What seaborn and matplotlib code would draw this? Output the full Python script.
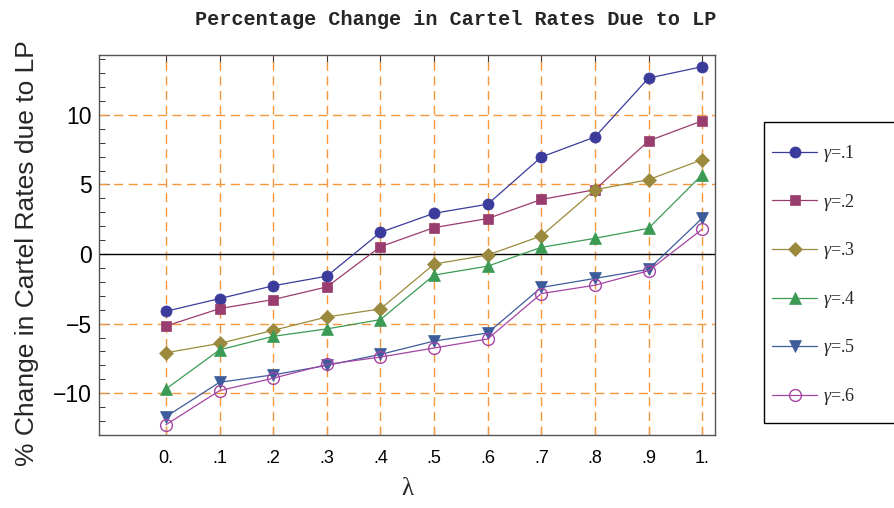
import numpy as np
import pandas as pd
import seaborn as sns
import matplotlib
matplotlib.use("Agg")
import matplotlib.pyplot as plt
from matplotlib.patches import Rectangle
from matplotlib.ticker import MultipleLocator, FixedLocator

# ---- data ----
lam = [0.0, 0.1, 0.2, 0.3, 0.4, 0.5, 0.6, 0.7, 0.8, 0.9, 1.0]
lam_labels = ["0.", ".1", ".2", ".3", ".4", ".5", ".6", ".7", ".8", ".9", "1."]
g1 = [-4.11, -3.20, -2.28, -1.59, 1.56, 2.93, 3.58, 6.97, 8.41, 12.64, 13.46]
g2 = [-5.17, -3.92, -3.27, -2.36, 0.53, 1.90, 2.55, 3.92, 4.62, 8.13, 9.57]
g3 = [-7.09, -6.42, -5.48, -4.52, -3.94, -0.72, -0.07, 1.30, 4.62, 5.34, 6.78]
g4 = [-9.69, -6.88, -5.91, -5.38, -4.71, -1.51, -0.87, 0.48, 1.13, 1.85, 5.70]
g5 = [-11.68, -9.21, -8.68, -8.00, -7.21, -6.25, -5.67, -2.40, -1.75, -1.10, 2.57]
g6 = [-12.26, -9.81, -8.92, -7.93, -7.40, -6.75, -6.10, -2.84, -2.24, -1.20, 1.78]
series = [g1, g2, g3, g4, g5, g6]
series_names = [r"$\gamma$=.1", r"$\gamma$=.2", r"$\gamma$=.3",
                r"$\gamma$=.4", r"$\gamma$=.5", r"$\gamma$=.6"]
y_ticks = [-10, -5, 0, 5, 10]

colors = ["#3b3b9b", "#993d6e", "#9b8a3d", "#3b9b55", "#3d5c9b", "#a445a4"]
markers = ["o", "s", "D", "^", "v", "o"]
msizes = [8.0, 7.0, 7.5, 8.0, 8.0, 8.5]
filled = [True, True, True, True, True, False]

sns.set_theme(style="white")
plt.rcParams["mathtext.fontset"] = "custom"
plt.rcParams["mathtext.it"] = "Liberation Serif:italic"
plt.rcParams["mathtext.rm"] = "Liberation Serif"
plt.rcParams["font.family"] = ["Liberation Sans", "DejaVu Sans"]

W, H = 895, 508
fig = plt.figure(figsize=(W / 100, H / 100), dpi=100)
ax_l, ax_r, ax_t, ax_b = 99, 715, 55, 435
ax = fig.add_axes([ax_l / W, 1 - ax_b / H, (ax_r - ax_l) / W, (ax_b - ax_t) / H])

# grid
grid_kw = dict(color="#f7963a", lw=1.0, dashes=(6.5, 4), zorder=1)
for xv in lam:
    ax.axvline(xv, **grid_kw)
for yv in y_ticks:
    if yv != 0:
        ax.axhline(yv, **grid_kw)
ax.axhline(0, color="black", lw=1.0, zorder=1.5)

for vals, name, c, m, ms, f in zip(series, series_names, colors, markers, msizes, filled):
    sns.lineplot(x=lam, y=vals, ax=ax, color=c, marker=m, markersize=ms,
                 linewidth=0.9, label=name, markeredgecolor=c,
                 markerfacecolor=(c if f else "none"),
                 markeredgewidth=(0.5 if f else 1.0), zorder=3)

ax.set_xlim(-0.125, 1.024)
ax.set_ylim(-13.0, 14.3)
ax.xaxis.set_major_locator(FixedLocator(lam))
ax.set_xticklabels(lam_labels)
ax.yaxis.set_major_locator(FixedLocator(y_ticks))
ax.yaxis.set_minor_locator(MultipleLocator(1))

ax.tick_params(axis="x", which="major", direction="in", length=6, width=0.8,
               color="#333333", top=True, bottom=True, labelsize=13, pad=10.5)
ax.tick_params(axis="y", which="major", direction="in", length=7, width=0.8,
               color="#333333", left=True, right=False, labelsize=16.5, pad=5)
ax.tick_params(axis="y", which="minor", direction="in", length=4, width=0.7,
               color="#333333", left=True, right=False)
for lab in ax.get_xticklabels() + ax.get_yticklabels():
    lab.set_color("black")

for s in ax.spines.values():
    s.set_color("#555555")
    s.set_linewidth(1.0)
    s.set_visible(True)

ax.set_xlabel("λ", family="Liberation Serif", fontsize=18)
ax.xaxis.set_label_coords(0.5, -0.112)
ax.set_ylabel("% Change in Cartel Rates due to LP", fontsize=19)
ax.yaxis.set_label_coords(-0.097, 0.479)

fig.text(0.509, 0.961, "Percentage Change in Cartel Rates Due to LP",
         ha="center", va="center", family="Liberation Mono",
         weight="bold", fontsize=14.5)

# legend
leg = ax.legend(loc="upper left", bbox_to_anchor=(772 / W, 1 - 143 / H),
                bbox_transform=fig.transFigure, frameon=False,
                prop={"family": "Liberation Serif", "size": 13},
                handlelength=2.5, handletextpad=0.35, labelspacing=1.53,
                borderpad=0, borderaxespad=0)
fig.patches.append(Rectangle((764 / W, 1 - 423 / H), 200 / W, 301 / H,
                             transform=fig.transFigure, fill=False,
                             edgecolor="black", lw=1.0))

fig.savefig("out.png", dpi=100)
